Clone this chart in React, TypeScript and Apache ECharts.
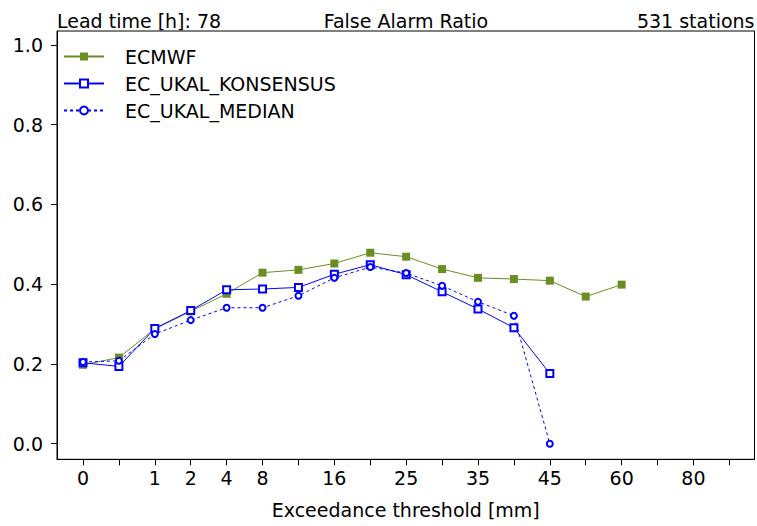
import React, { useEffect, useRef } from "react";
import * as echarts from "echarts";

// Threshold tick labels (index positions on the x axis); "" = tick without label
const thresholdLabels = ["0", "", "1", "2", "4", "8", "", "16", "", "25", "", "35", "", "45", "", "60", "", "80", ""];

const seriesNames = ["ECMWF", "EC_UKAL_KONSENSUS", "EC_UKAL_MEDIAN"];

const ecmwf = [0.198, 0.216, 0.288, 0.332, 0.376, 0.429, 0.436, 0.452, 0.479, 0.469, 0.438, 0.416, 0.413, 0.409, 0.369, 0.399];
const konsensus = [0.203, 0.194, 0.289, 0.334, 0.386, 0.388, 0.392, 0.425, 0.449, 0.424, 0.381, 0.338, 0.291, 0.176];
const median = [0.205, 0.208, 0.275, 0.310, 0.341, 0.341, 0.371, 0.416, 0.443, 0.428, 0.396, 0.356, 0.321, 0.0];

const yTicks = [0, 0.2, 0.4, 0.6, 0.8, 1.0];

const headerLeft = "Lead time [h]: 78";
const headerCenter = "False Alarm Ratio";
const headerRight = "531 stations";
const xAxisName = "Exceedance threshold [mm]";

const FONT = "'DejaVu Sans', 'Liberation Sans', Arial, sans-serif";
const GREEN = "#6b8e23";
const BLUE = "#0000ff";

const toPoints = (arr: number[]) => arr.map((v, i) => [i, v]);

export default function App() {
  const ref = useRef<HTMLDivElement>(null);

  useEffect(() => {
    if (!ref.current) return;
    const chart = echarts.init(ref.current, undefined, { renderer: "svg" });
    const tickIdx = thresholdLabels.map((_, i) => i);
    const labelIdx = tickIdx.filter((i) => thresholdLabels[i] !== "");

    chart.setOption({
      animation: false,
      backgroundColor: "#ffffff",
      textStyle: { fontFamily: FONT },
      grid: {
        left: 57,
        top: 31,
        right: 2.5,
        bottom: 66.7,
        show: true,
        borderColor: "#000",
        borderWidth: 1,
        backgroundColor: "transparent",
      },
      graphic: [
        {
          type: "text",
          left: 57,
          top: 11,
          style: { text: headerLeft, font: `19px ${FONT}`, fill: "#000" },
        },
        {
          type: "text",
          x: 406,
          y: 11,
          style: { text: headerCenter, font: `19px ${FONT}`, fill: "#000", textAlign: "center" },
        },
        {
          type: "text",
          right: 2.5,
          top: 11,
          style: { text: headerRight, font: `19px ${FONT}`, fill: "#000" },
        },
      ],
      legend: {
        orient: "vertical",
        left: 63,
        top: 47,
        padding: 0,
        itemWidth: 40,
        itemHeight: 10,
        itemGap: 8,
        data: seriesNames,
        textStyle: { fontFamily: FONT, fontSize: 19, color: "#000", padding: [0, 0, 0, 16] },
      },
      xAxis: {
        type: "value",
        min: -0.724,
        max: 18.7,
        name: xAxisName,
        nameLocation: "middle",
        nameGap: 41,
        nameTextStyle: { fontFamily: FONT, fontSize: 19, color: "#000" },
        splitLine: { show: false },
        axisLine: { show: true, onZero: false, lineStyle: { color: "#000", width: 1 } },
        axisTick: {
          show: true,
          length: 6,
          customValues: tickIdx,
          lineStyle: { color: "#000", width: 1 },
        },
        axisLabel: {
          customValues: labelIdx,
          margin: 9,
          fontFamily: FONT,
          fontSize: 19,
          color: "#000",
          formatter: (v: number) => thresholdLabels[Math.round(v)] ?? "",
        },
      },
      yAxis: {
        type: "value",
        min: -0.039,
        max: 1.035,
        splitLine: { show: false },
        axisLine: { show: true, onZero: false, lineStyle: { color: "#000", width: 1 } },
        axisTick: {
          show: true,
          length: 6,
          customValues: yTicks,
          lineStyle: { color: "#000", width: 1 },
        },
        axisLabel: {
          customValues: yTicks,
          margin: 14,
          fontFamily: FONT,
          fontSize: 19,
          color: "#000",
          formatter: (v: number) => v.toFixed(1),
        },
      },
      series: [
        {
          name: seriesNames[0],
          type: "line",
          data: toPoints(ecmwf),
          symbol: "rect",
          symbolSize: 8,
          color: GREEN,
          itemStyle: { color: GREEN },
          lineStyle: { color: GREEN, width: 1 },
        },
        {
          name: seriesNames[1],
          type: "line",
          data: toPoints(konsensus),
          symbol: "emptyRect",
          symbolSize: 7,
          color: BLUE,
          itemStyle: { color: BLUE, borderWidth: 1 },
          lineStyle: { color: BLUE, width: 1 },
        },
        {
          name: seriesNames[2],
          type: "line",
          data: toPoints(median),
          symbol: "emptyCircle",
          symbolSize: 6,
          color: BLUE,
          itemStyle: { color: BLUE, borderWidth: 1 },
          lineStyle: { color: BLUE, width: 1, type: [3, 3] },
        },
      ],
    });
    return () => chart.dispose();
  }, []);

  return (
    <div
      ref={ref}
      style={{ position: "absolute", left: 0, top: 0, width: 757, height: 526 }}
    />
  );
}
